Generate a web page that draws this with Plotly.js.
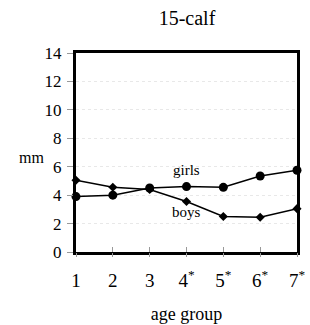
<!DOCTYPE html>
<html>
<head>
<script src="https://cdn.plot.ly/plotly-3.0.1.min.js"></script>
<style>html,body{margin:0;padding:0;background:#fff;}#chart{width:310px;height:325px;}</style>
</head>
<body>
<div id="chart"></div>
<script>
const ageGroups = [1, 2, 3, 4, 5, 6, 7];
const tickLabels = ["1", "2", "3", "4<sup>*</sup>", "5<sup>*</sup>", "6<sup>*</sup>", "7<sup>*</sup>"];
const girls = [3.9, 4.0, 4.5, 4.6, 4.55, 5.35, 5.75];
const boys = [5.05, 4.55, 4.4, 3.55, 2.5, 2.45, 3.05];

const FAM = "Liberation Serif";
const font = {family: FAM, color: "#000", size: 15};

const traces = [
  {x: ageGroups, y: girls, name: "girls", mode: "lines+markers", type: "scatter",
   line: {color: "#000", width: 1.5}, marker: {symbol: "circle", size: 9, color: "#000"}, cliponaxis: false},
  {x: ageGroups, y: boys, name: "boys", mode: "lines+markers", type: "scatter",
   line: {color: "#000", width: 1.5}, marker: {symbol: "diamond", size: 7, color: "#000"}, cliponaxis: false}
];

const L = 76, R = 13, T = 53, B = 73, W = 310, H = 325;
const layout = {
  width: W, height: H,
  margin: {l: L, r: R, t: T, b: B},
  paper_bgcolor: "#fff", plot_bgcolor: "#fff",
  showlegend: false,
  font: font,
  title: {text: "15-calf", font: {family: FAM, size: 20, color: "#000"}, x: 187 / W, xanchor: "center", y: 1 - 18 / H, yanchor: "middle"},
  xaxis: {
    range: [1, 7], tickvals: ageGroups, ticktext: tickLabels,
    showline: true, mirror: true, linecolor: "#000", linewidth: 3,
    ticks: "inside", ticklen: 5, tickcolor: "#999", tickwidth: 1,
    tickfont: {family: FAM, size: 19, color: "#000"}, ticklabelstandoff: 9,
    showgrid: false, zeroline: false,
    title: {text: "age group", font: {family: FAM, size: 18, color: "#000"}, standoff: 18}
  },
  xaxis2: {
    overlaying: "x", matches: "x", anchor: "y", side: "bottom",
    range: [1, 7], tickvals: ageGroups, showticklabels: false,
    ticks: "outside", ticklen: 4, tickcolor: "#999", tickwidth: 1,
    showline: false, showgrid: false, zeroline: false
  },
  yaxis: {
    range: [0, 14], dtick: 2,
    showline: true, mirror: true, linecolor: "#000", linewidth: 3,
    ticks: "outside", ticklen: 6, tickcolor: "#999", tickwidth: 1,
    tickfont: {family: FAM, size: 17, color: "#000"}, ticklabelstandoff: 2,
    showgrid: true, gridcolor: "#e8e8e8", griddash: "dot", gridwidth: 1, zeroline: false
  },
  annotations: [
    {x: 4, y: 5.8, text: "girls", showarrow: false, xref: "x", yref: "y", xanchor: "center", yanchor: "middle", font: {family: FAM, size: 15, color: "#000"}},
    {x: 4, y: 2.8, text: "boys", showarrow: false, xref: "x", yref: "y", xanchor: "center", yanchor: "middle", font: {family: FAM, size: 15, color: "#000"}},
    {x: (31 - L) / (W - L - R), y: 1 - (157 - T) / (H - T - B), text: "mm", showarrow: false, xref: "paper", yref: "paper", xanchor: "center", yanchor: "middle", font: {family: FAM, size: 16, color: "#000"}}
  ]
};

traces.push({x: ageGroups, y: girls, xaxis: "x2", yaxis: "y", mode: "none", type: "scatter", hoverinfo: "skip", showlegend: false});

Plotly.newPlot("chart", traces, layout, {displayModeBar: false, staticPlot: true});
</script>
</body>
</html>
